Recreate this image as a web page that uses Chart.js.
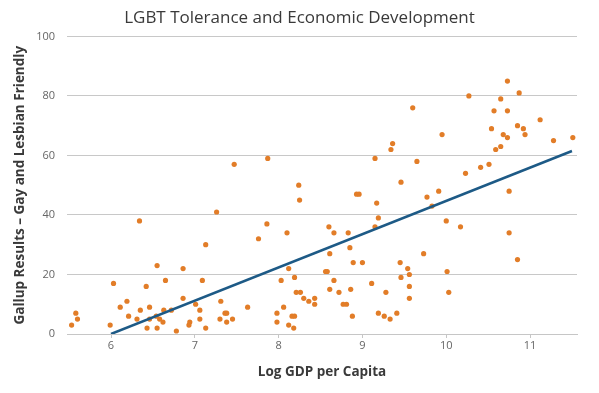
<!DOCTYPE html>
<html>
<head>
<meta charset="utf-8">
<title>LGBT Tolerance and Economic Development</title>
<script src="https://cdn.jsdelivr.net/npm/chart.js@4/dist/chart.umd.min.js"></script>
<style>
  body { margin: 0; background: #fff; }
  #chart { display: block; }
</style>
</head>
<body>
<canvas id="chart" width="599" height="393"></canvas>
<script>
// log GDP per capita for each country (x values)
var gdpLog = [
  7.26, 6.34, 7.13, 6.55, 6.86, 6.03, 6.65, 7.09, 6.42, 6.86,
  6.19, 7.31, 6.11, 6.46, 7.01, 6.35, 6.63, 6.72, 7.06, 5.58,
  6.21, 6.54, 7.36, 7.38, 5.60, 6.31, 6.46, 6.58, 7.06, 7.30,
  7.45, 6.62, 6.94, 6.93, 7.38, 5.53, 5.99, 6.43, 6.55, 7.13,
  6.78, 7.47, 9.36, 9.34, 7.87, 9.15, 8.24, 9.46, 8.25, 8.93,
  8.96, 9.17, 9.19, 9.15, 7.86, 7.76, 8.10, 8.60, 8.66, 8.83,
  8.85, 8.61, 8.12, 8.89, 9.00, 9.45, 8.56, 8.58, 8.03, 8.19,
  8.66, 9.46, 9.11, 8.61, 8.21, 8.26, 8.72, 8.86, 9.28, 8.30,
  8.36, 8.43, 8.43, 8.77, 8.81, 7.63, 8.06, 7.98, 9.19, 9.26,
  9.41, 9.33, 8.88, 8.16, 8.19, 7.98, 8.12, 8.18, 10.73, 10.87,
  10.27, 10.65, 9.60, 10.57, 10.73, 11.12, 10.85, 10.92, 10.54, 9.95,
  10.68, 10.94, 10.73, 11.51, 11.28, 10.65, 10.59, 9.65, 10.51, 10.41,
  10.23, 9.91, 10.75, 9.77, 9.83, 10.00, 10.17, 10.75, 9.73, 10.85,
  9.54, 10.01, 9.56, 9.56, 10.03, 9.56
];

// gallup result, percent saying area is good for gays and lesbians (y values)
var gallup = [
  41, 38, 30, 23, 22, 17, 18, 18, 16, 12,
  11, 11, 9, 9, 10, 8, 8, 8, 8, 7,
  6, 6, 7, 7, 5, 5, 5, 5, 5, 5,
  5, 4, 4, 3, 4, 3, 3, 2, 2, 2,
  1, 57, 64, 62, 59, 59, 50, 51, 45, 47,
  47, 44, 39, 36, 37, 32, 34, 36, 34, 34,
  29, 27, 22, 24, 24, 24, 21, 21, 18, 19,
  18, 19, 17, 15, 14, 14, 14, 15, 14, 12,
  11, 12, 10, 10, 10, 9, 9, 7, 7, 6,
  7, 5, 6, 6, 6, 4, 3, 2, 85, 81,
  80, 79, 76, 75, 75, 72, 70, 69, 69, 67,
  67, 67, 66, 66, 65, 63, 62, 58, 57, 56,
  54, 48, 48, 46, 43, 38, 36, 34, 27, 25,
  22, 21, 20, 16, 14, 12
];

// end points of the fitted trend line
var trendX = [6, 11.5];
var trendY = [0, 61.5];

// axis tick values
var yTicks = [0, 20, 40, 60, 80, 100];
var xTicks = [6, 7, 8, 9, 10, 11];

// turn the paired arrays into {x, y} points
function toPoints(xs, ys) {
  var pts = [];
  for (var i = 0; i < xs.length; i++) {
    pts.push({ x: xs[i], y: ys[i] });
  }
  return pts;
}

var fontFamily = "'Open Sans', 'DejaVu Sans', sans-serif";
var ctx = document.getElementById("chart").getContext("2d");

var myChart = new Chart(ctx, {
  type: "scatter",
  data: {
    datasets: [
      {
        label: "Trend",
        data: toPoints(trendX, trendY),
        showLine: true,
        borderColor: "#1d5a86",
        borderWidth: 2.5,
        pointRadius: 0,
        fill: false,
        order: 0,
      },
      {
        label: "Countries",
        data: toPoints(gdpLog, gallup),
        pointRadius: 2.6,
        pointBorderWidth: 0,
        backgroundColor: "#e27d28",
        borderColor: "#e27d28",
        order: 1,
      },
    ],
  },
  options: {
    responsive: false,
    animation: false,
    layout: {
      padding: 0,
    },
    plugins: {
      legend: { display: false },
      tooltip: { enabled: false },
      title: {
        display: true,
        text: "LGBT Tolerance and Economic Development",
        color: "#3a3a3a",
        font: { family: fontFamily, size: 17, weight: "normal" },
        padding: { top: 8, bottom: 8 },
      },
    },
    scales: {
      x: {
        type: "linear",
        min: 5.475,
        max: 11.56,
        afterBuildTicks: function (scale) {
          scale.ticks = xTicks.map(function (v) { return { value: v }; });
        },
        afterFit: function (scale) {
          // fixed axis height and room on the right of the plot
          scale.height = 59;
          scale.paddingRight = 22;
        },
        ticks: {
          color: "#666",
          padding: 1,
          font: { family: fontFamily, size: 11 },
        },
        grid: {
          drawOnChartArea: false,
          drawTicks: true,
          tickLength: 4,
          color: "#c6c6c6",
        },
        border: { display: true, color: "#c6c6c6", width: 1 },
        title: {
          display: true,
          text: "Log GDP per Capita",
          color: "#3a3a3a",
          font: { family: fontFamily, size: 13.5, weight: "bold" },
          padding: { top: 0, bottom: 13 },
        },
      },
      y: {
        type: "linear",
        min: 0,
        max: 100,
        afterBuildTicks: function (scale) {
          scale.ticks = yTicks.map(function (v) { return { value: v }; });
        },
        afterFit: function (scale) {
          scale.width = 67;
        },
        ticks: {
          color: "#666",
          padding: 12,
          font: { family: fontFamily, size: 11 },
        },
        grid: {
          drawTicks: false,
          color: "#c8c8c8",
        },
        border: { display: false },
        title: {
          display: true,
          text: "Gallup Results \u2013 Gay and Lesbian Friendly",
          color: "#3a3a3a",
          font: { family: fontFamily, size: 13.5, weight: "bold" },
          padding: { top: 12, bottom: 0 },
        },
      },
    },
  },
});
</script>
</body>
</html>
